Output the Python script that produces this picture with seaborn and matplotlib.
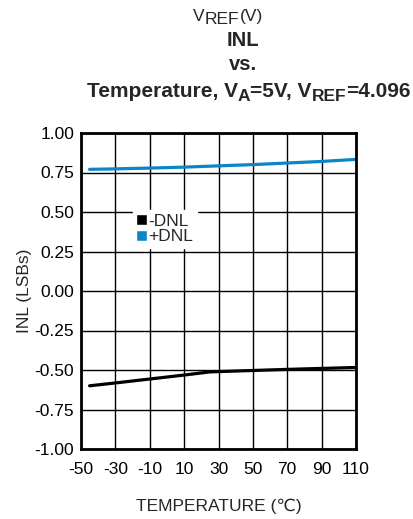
import numpy as np
import pandas as pd
import matplotlib
matplotlib.use("Agg")
import matplotlib.pyplot as plt
import seaborn as sns
from matplotlib.patches import Patch

sns.set_theme(style="white")
plt.rcParams["font.family"] = ["Liberation Sans", "DejaVu Sans"]

# dados
temp = [-45, -30, -10, 10, 25, 50, 70, 90, 110]
neg_dnl = [-0.600, -0.582, -0.557, -0.532, -0.512, -0.503, -0.496, -0.490, -0.484]
pos_dnl = [0.770, 0.773, 0.778, 0.784, 0.790, 0.800, 0.810, 0.820, 0.833]
xticks = [-50, -30, -10, 10, 30, 50, 70, 90, 110]
yticks = [-1.00, -0.75, -0.50, -0.25, 0.00, 0.25, 0.50, 0.75, 1.00]

df = pd.DataFrame({
    "temp": temp * 2,
    "valor": neg_dnl + pos_dnl,
    "serie": ["-DNL"] * len(temp) + ["+DNL"] * len(temp),
})
cores = {"-DNL": "black", "+DNL": "#0A86C6"}

W, H = 413, 519
fig = plt.figure(figsize=(W / 100, H / 100), dpi=100)
ax = fig.add_axes([81 / W, 1 - 449 / H, 275 / W, 316 / H])

sns.lineplot(data=df, x="temp", y="valor", hue="serie", palette=cores,
             linewidth=2.3, legend=False, ax=ax)

ax.set_xlim(-50, 110)
ax.set_ylim(-1, 1)
ax.set_xticks(xticks)
ax.set_yticks(yticks)
ax.set_xticklabels([str(t) for t in xticks], fontsize=12.5)
ax.set_yticklabels([f"{t:.2f}" for t in yticks], fontsize=12.5)
ax.grid(True, color="black", linewidth=1)
ax.set_axisbelow(True)
for s in ax.spines.values():
    s.set_color("black")
    s.set_linewidth(2)
ax.tick_params(axis="y", length=0, pad=5, colors="black")
ax.tick_params(axis="x", length=0, pad=9, colors="black")
ax.set_xlabel("TEMPERATURE (℃)", fontsize=12.5, labelpad=16)
ax.set_ylabel("INL (LSBs)", fontsize=12.5, labelpad=2)

handles = [Patch(facecolor=cores["-DNL"], label="-DNL"),
           Patch(facecolor=cores["+DNL"], label="+DNL")]
leg = ax.legend(handles=handles, loc="upper left", bbox_to_anchor=(0.189, 0.756),
                fontsize=12.5, frameon=True, fancybox=False, framealpha=1,
                edgecolor="white", handlelength=0.6, handleheight=0.6,
                handletextpad=0.1, labelspacing=0.05, borderpad=0.2,
                borderaxespad=0)

renderer = fig.canvas.get_renderer()


def texto_rico(cx, y, partes, weight="normal"):
    # partes: (texto, tamanho, deslocamento vertical em px)
    objs = []
    for s, size, dy in partes:
        t = fig.text(0, 0, s, fontsize=size, fontweight=weight, ha="left", va="baseline")
        objs.append((t, t.get_window_extent(renderer).width, dy))
    x = cx - sum(w for _, w, _ in objs) / 2
    for t, w, dy in objs:
        t.set_position((x / W, 1 - (y + dy) / H))
        x += w


texto_rico(228, 21, [("V", 12.5, 0), ("REF", 12.5, 3), ("(V)", 12.5, 0)])
texto_rico(243, 46, [("INL", 14.5, 0)], weight="bold")
texto_rico(243, 70, [("vs.", 14.5, 0)], weight="bold")
texto_rico(249, 97, [("Temperature, V", 15, 0), ("A", 12.5, 4), ("=5V, V", 15, 0),
                     ("REF", 12.5, 4), ("=4.096", 15, 0)], weight="bold")

fig.savefig("out.png", dpi=100)
